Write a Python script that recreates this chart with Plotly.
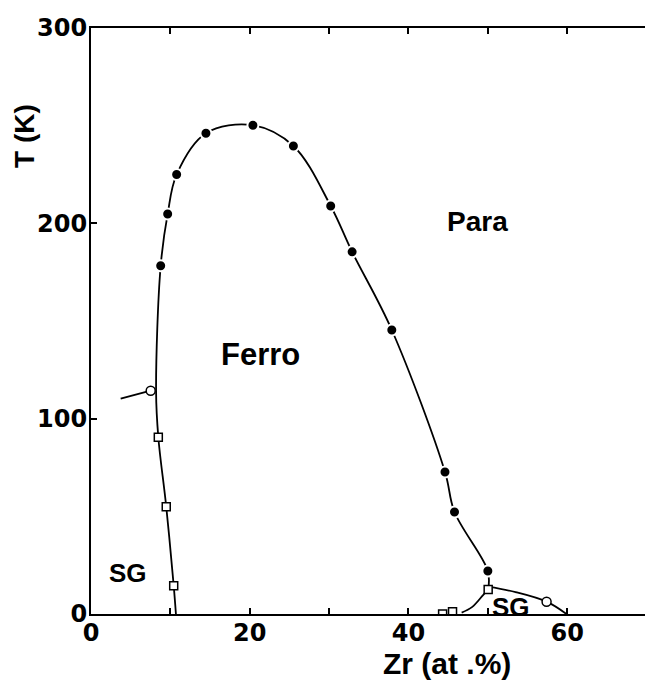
import plotly.graph_objects as go

# --- data ---
ferro_x = [8.78, 9.66, 10.79, 14.48, 20.4, 25.5, 30.2, 32.9, 37.9, 44.6, 45.8, 50.0]
ferro_T = [178.3, 204.8, 225.0, 246.1, 250.2, 239.6, 208.9, 185.4, 145.4, 72.7, 52.2, 22.0]

sg_x = [8.48, 9.48, 10.42, 44.3, 45.55, 50.04]
sg_T = [90.5, 54.9, 14.5, 0.0, 1.2, 12.6]

open_x = [7.52, 57.4]
open_T = [114.3, 6.3]

# phase boundary lines
tc_line_x = [10.7, 10.42, 9.48, 8.48, 8.2, 8.78, 9.66, 10.79, 14.48, 20.4, 25.5, 30.2, 32.9, 37.9, 44.6, 45.8, 50.0, 50.04]
tc_line_T = [0.0, 14.5, 54.9, 90.5, 114.0, 178.3, 204.8, 225.0, 246.1, 250.2, 239.6, 208.9, 185.4, 145.4, 72.7, 52.2, 22.0, 12.6]
tail_x = [3.74, 7.52]
tail_T = [110.2, 114.3]
sg_right_x = [50.04, 53.5, 57.4, 59.9]
sg_right_T = [14.0, 11.2, 6.3, 0.0]
sg_left_x = [50.04, 49.4, 48.0, 46.7]
sg_left_T = [12.6, 9.7, 3.5, 0.7]

x_ticks = [0, 10, 20, 30, 40, 50, 60]
x_ticktext = ["0", "", "20", "", "40", "", "60"]
y_ticks = [0, 100, 200, 300]

labels = [("Para", 48.7, 200.7, 28), ("Ferro", 21.4, 132.6, 31), ("SG", 4.66, 21.0, 26), ("SG", 52.9, 3.6, 26)]

fig = go.Figure()

for lx, ly, shape in [(tc_line_x, tc_line_T, "spline"), (tail_x, tail_T, "linear"),
                      (sg_right_x, sg_right_T, "spline"), (sg_left_x, sg_left_T, "spline")]:
    fig.add_trace(go.Scatter(x=lx, y=ly, mode="lines", line=dict(color="black", width=1.8, shape=shape),
                             hoverinfo="skip", showlegend=False))

fig.add_trace(go.Scatter(x=ferro_x, y=ferro_T, mode="markers",
                         marker=dict(symbol="circle", size=11, color="black", line=dict(color="white", width=2)),
                         showlegend=False))
fig.add_trace(go.Scatter(x=sg_x, y=sg_T, mode="markers",
                         marker=dict(symbol="square", size=8, color="white", line=dict(color="black", width=1.5)),
                         showlegend=False))
fig.add_trace(go.Scatter(x=open_x, y=open_T, mode="markers",
                         marker=dict(symbol="circle", size=9, color="white", line=dict(color="black", width=1.5)),
                         showlegend=False))

for txt, x, y, sz in labels:
    fig.add_annotation(x=x, y=y, text="<b>" + txt + "</b>", showarrow=False,
                       font=dict(family="Liberation Sans", size=sz, color="black"))

fig.add_annotation(xref="paper", yref="paper", x=0.643, y=-0.0853, xanchor="center", yanchor="middle",
                   text="<b>Zr (at .%)</b>", showarrow=False,
                   font=dict(family="Liberation Sans", size=30, color="black"))
fig.add_annotation(xref="paper", yref="paper", x=-0.119, y=0.816, xanchor="center", yanchor="middle",
                   text="<b>T (K)</b>", showarrow=False, textangle=-90,
                   font=dict(family="Liberation Sans", size=28, color="black"))

axis_common = dict(showline=True, linecolor="black", linewidth=2, ticks="inside", ticklen=6,
                   tickcolor="black", tickwidth=1.5, showgrid=False, zeroline=False,
                   tickfont=dict(family="DejaVu Sans", size=24, color="black", weight="bold"))
fig.update_xaxes(range=[0, 69.8], tickvals=x_ticks, ticktext=x_ticktext, mirror="ticks",
                 ticklabelstandoff=-4, **axis_common)
fig.update_yaxes(range=[0, 300], tickvals=y_ticks, mirror=False, ticklabelstandoff=-3, **axis_common)

fig.update_layout(width=645, height=684, margin=dict(l=91, r=0, t=28, b=70),
                  plot_bgcolor="white", paper_bgcolor="white",
                  font=dict(family="Liberation Sans", color="black"))

fig.write_html("out.html")
